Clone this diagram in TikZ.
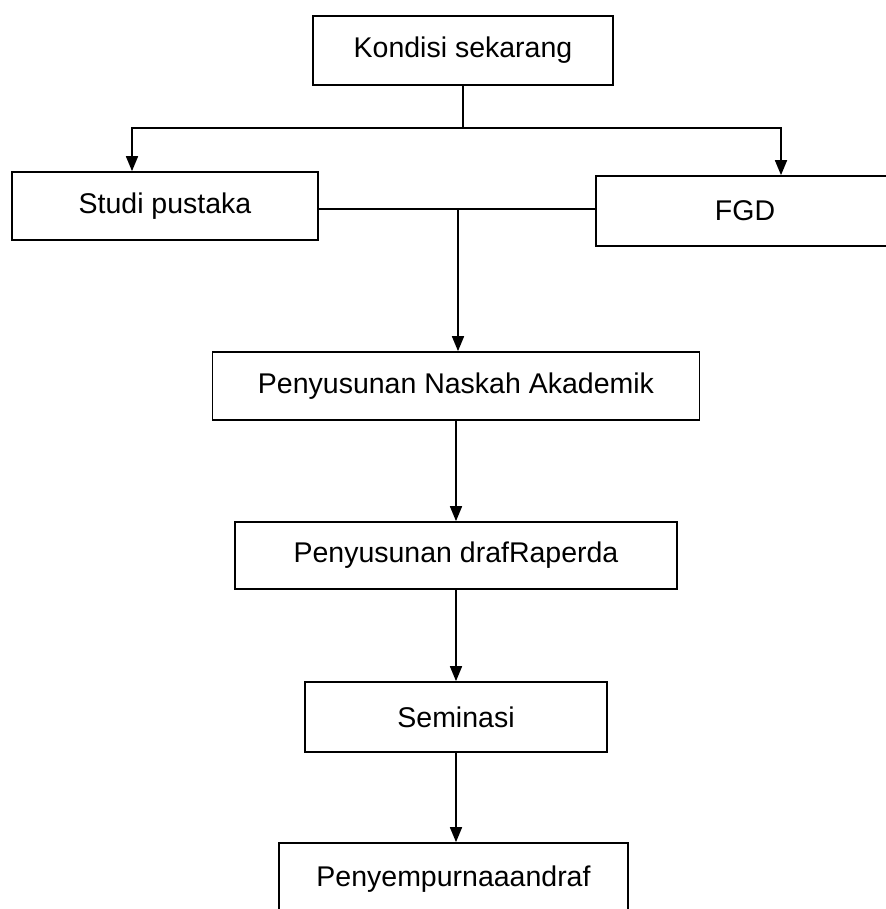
\documentclass[tikz,border=0pt]{standalone}
\usepackage{fontspec}
\setmainfont{Liberation Sans}
\usepackage{tikz}
\usetikzlibrary{arrows.meta,calc}

\tikzset{
  box/.style={draw,line width=1.7pt,inner sep=0pt,align=center,
    font=\fontsize{28.5}{34}\selectfont},
  link/.style={line width=1.7pt},
  arrow/.style={link,-{Triangle[length=15pt,width=12pt]}}
}

\begin{document}
\begin{tikzpicture}[x=1pt,y=-1pt]
    \useasboundingbox[fill=white] (0,0) rectangle (885,909);
    \node (kondisi) [box,minimum width=300,minimum height=69] at (463,50.5) {Kondisi sekarang};
    \node (studi) [box,minimum width=306,minimum height=68] at (165,206) {\raisebox{4pt}{Studi pustaka}};
    \node (fgd) [box,minimum width=298,minimum height=70] at (745,211) {FGD};
    \node (naskah) [box,minimum width=487,minimum height=68] at (456,386) {Penyusunan Naskah Akademik};
    \node (draf) [box,minimum width=442,minimum height=67] at (456,555.5) {Penyusunan drafRaperda};
    \node (seminasi) [box,minimum width=302,minimum height=70] at (456,717) {Seminasi};
    \node (sempurna) [box,minimum width=349,minimum height=72] at (453.5,879) {\raisebox{5pt}{Penyempurnaaandraf}};
    % split under the first box
    \coordinate (lt) at (132,128);
    \coordinate (rt) at (781,128);
    \draw[arrow] (kondisi.south) |- (lt) -- (lt |- studi.north);
    \draw[arrow] (kondisi.south) |- (rt) -- (rt |- fgd.north);
    % join of the two sources
    \coordinate (join) at (458,209);
    \draw[link] (studi.east |- join) -- (fgd.west |- join);
    \draw[arrow] (join) -- (join |- naskah.north);
    \draw[arrow] (naskah.south) -- (draf.north);
    \draw[arrow] (draf.south) -- (seminasi.north);
    \draw[arrow] (seminasi.south) -- (seminasi.south |- sempurna.north);
  \end{tikzpicture}
\end{document}
